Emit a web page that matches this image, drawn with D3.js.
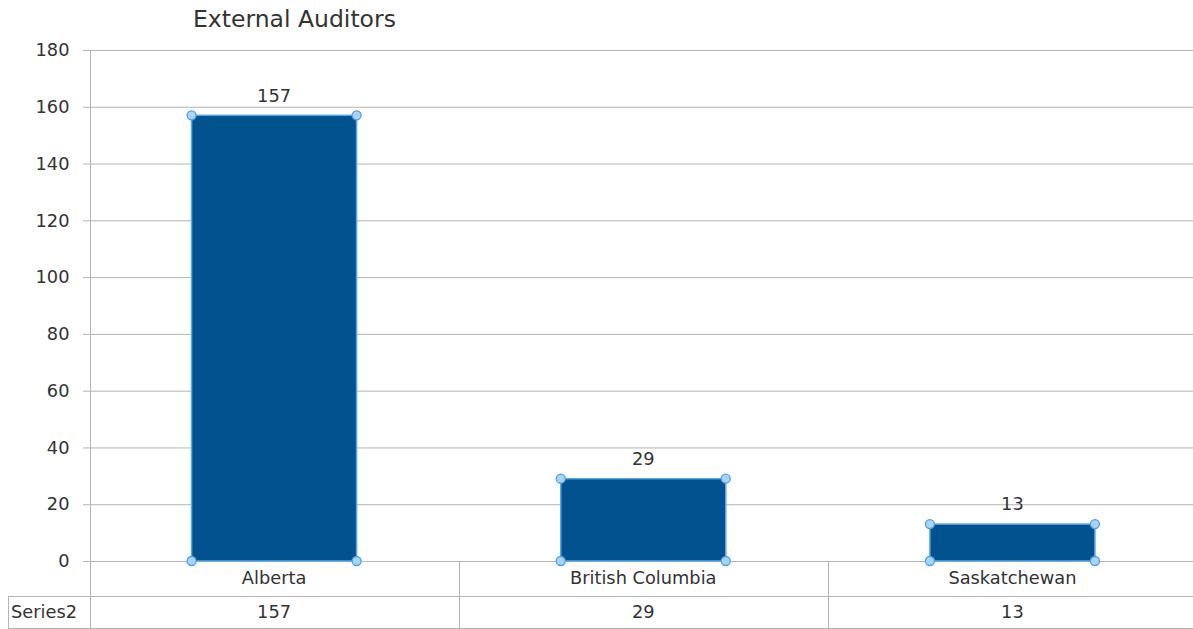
<!DOCTYPE html>
<html><head><meta charset="utf-8">
<script src="https://cdn.jsdelivr.net/npm/d3@7"></script>
<style>html,body{margin:0;padding:0;background:#fff;overflow:hidden}text{font-family:"DejaVu Sans",sans-serif;fill:#333}</style>
</head><body>
<svg id="c" width="1193" height="629"></svg>
<script>
const categories = ["Alberta", "British Columbia", "Saskatchewan"];
const values = [157, 29, 13];
const seriesName = "Series2";
const yTicks = [0, 20, 40, 60, 80, 100, 120, 140, 160, 180];
const title = "External Auditors";

(function () {
const svg = d3.select("#c");
const pL = 91, pR = 1198.5, pT = 50, pB = 561;
const fs = "17.8px";
const x = d3.scaleBand().domain(categories).range([pL, pR]).paddingInner(0).paddingOuter(0);
const y = d3.scaleLinear().domain([0, 180]).range([pB, pT]);
const grid = "#b4b4b4";

// gridlines
svg.append("g").selectAll("line").data(yTicks).join("line")
  .attr("x1", pL - 8).attr("x2", 1193).attr("y1", d => y(d) + 0.5).attr("y2", d => y(d) + 0.5)
  .attr("stroke", grid).attr("stroke-width", 1);
// y axis
const ya = svg.append("g").attr("transform", `translate(${pL - 0.5},0)`).call(d3.axisLeft(y).tickValues(yTicks).tickSize(0).tickPadding(21));
ya.select(".domain").attr("stroke", grid).attr("d", `M0,${pT}V629`);
ya.selectAll("text").style("font-size", fs).style("font-family", "DejaVu Sans").attr("fill", "#333");

// table lines
const bw = x.bandwidth();
const tg = svg.append("g");
categories.slice(1).forEach(c => {
  tg.append("line").attr("x1", Math.round(x(c)) - 0.5).attr("x2", Math.round(x(c)) - 0.5).attr("y1", pB).attr("y2", 629).attr("stroke", grid);
});
tg.append("line").attr("x1", 8).attr("x2", 1193).attr("y1", 596.5).attr("y2", 596.5).attr("stroke", grid);
tg.append("line").attr("x1", 8.5).attr("x2", 8.5).attr("y1", 596).attr("y2", 629).attr("stroke", grid);
tg.append("line").attr("x1", 8).attr("x2", 1193).attr("y1", 628.5).attr("y2", 628.5).attr("stroke", grid);

// category labels
svg.append("g").selectAll("text").data(categories).join("text")
  .attr("x", d => x(d) + bw / 2 - 1.5).attr("y", 578).attr("dy", "0.35em").attr("text-anchor", "middle")
  .style("font-size", fs).text(d => d);
// table row
svg.append("text").attr("x", 11).attr("y", 612).attr("dy", "0.35em").style("font-size", fs).text(seriesName);
svg.append("g").selectAll("text").data(values).join("text")
  .attr("x", (d, i) => x(categories[i]) + bw / 2 - 1.5).attr("y", 612).attr("dy", "0.35em").attr("text-anchor", "middle")
  .style("font-size", fs).text(d => d);

// bars
const barW = 165;
const bars = svg.append("g");
values.forEach((v, i) => {
  const cx = x(categories[i]) + bw / 2 - 1.5;
  const x0 = cx - barW / 2, x1 = cx + barW / 2;
  bars.append("rect").attr("x", x0).attr("y", y(v)).attr("width", barW).attr("height", y(0) - y(v))
    .attr("fill", "#02528f").attr("stroke", "#5aa6e6").attr("stroke-width", 1.5);
  [[x0, y(v)], [x1, y(v)], [x0, y(0)], [x1, y(0)]].forEach(p => {
    bars.append("circle").attr("cx", p[0]).attr("cy", p[1]).attr("r", 4.5)
      .attr("fill", "#a8d4f7").attr("stroke", "#4f9fe3").attr("stroke-width", 1.3);
  });
  svg.append("text").attr("x", cx).attr("y", y(v) - 20).attr("dy", "0.35em").attr("text-anchor", "middle")
    .style("font-size", fs).text(v);
});

svg.append("text").attr("x", 193).attr("y", 19).attr("dy", "0.35em").style("font-size", "23.5px").attr("fill", "#333").text(title);
})();
</script>
</body></html>
